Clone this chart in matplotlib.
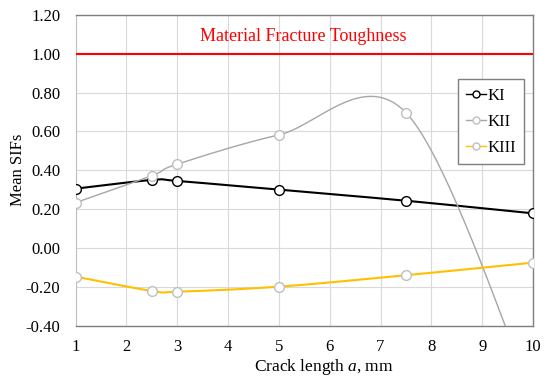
import numpy as np
import matplotlib
matplotlib.use('agg')
import matplotlib.pyplot as plt

# crack length (mm) and mean SIFs
crack_len = [1, 2.5, 3, 5, 7.5, 10]
k_one = [0.305, 0.350, 0.345, 0.300, 0.243, 0.178]
k_two = [0.233, 0.372, 0.431, 0.582, 0.697, -0.77]
k_three = [-0.148, -0.222, -0.226, -0.200, -0.141, -0.076]

x_ticks = [1, 2, 3, 4, 5, 6, 7, 8, 9, 10]
y_ticks = [-0.4, -0.2, 0.0, 0.2, 0.4, 0.6, 0.8, 1.0, 1.2]
toughness = 1.0


def smooth(xs, ys, n=40):
    # excel style smoothed line (catmull-rom as cubic bezier)
    xs = np.asarray(xs, float)
    ys = np.asarray(ys, float)
    px = np.concatenate([[xs[0]], xs, [xs[-1]]])
    py = np.concatenate([[ys[0]], ys, [ys[-1]]])
    outx, outy = [], []
    t = np.linspace(0, 1, n)
    for i in range(1, len(px) - 2):
        p1 = np.array([px[i], py[i]])
        p2 = np.array([px[i + 1], py[i + 1]])
        c1 = p1 + (p2 - np.array([px[i - 1], py[i - 1]])) / 6.0
        c2 = p2 - (np.array([px[i + 2], py[i + 2]]) - p1) / 6.0
        b = ((1 - t) ** 3)[:, None] * p1 + (3 * (1 - t) ** 2 * t)[:, None] * c1 \
            + (3 * (1 - t) * t ** 2)[:, None] * c2 + (t ** 3)[:, None] * p2
        outx.extend(b[:, 0])
        outy.extend(b[:, 1])
    return outx, outy


plt.rcParams['font.family'] = ['Liberation Serif', 'DejaVu Serif']
plt.rcParams['mathtext.fontset'] = 'custom'
plt.rcParams['mathtext.rm'] = 'Liberation Serif'
plt.rcParams['mathtext.it'] = 'Liberation Serif:italic'

fig = plt.figure(figsize=(5.5, 3.79), dpi=100)
ax = fig.add_axes([75.5 / 550, 1 - 325.5 / 379, 457.5 / 550, 310.5 / 379])

series = [
    ('KI', k_one, 'black', 'black', 1.5),
    ('KII', k_two, '#a6a6a6', '#bfbfbf', 1.0),
    ('KIII', k_three, '#ffc000', '#bfbfbf', 1.5),
]
for name, vals, col, edge, lw in series:
    sx, sy = smooth(crack_len, vals)
    ax.plot(sx, sy, color=col, linewidth=lw, zorder=3)
    ax.plot(crack_len, vals, linestyle='none', marker='o', markersize=7,
            markerfacecolor='white', markeredgecolor=edge, markeredgewidth=1.0, zorder=4)
    ax.plot([], [], color=col, linewidth=1.0, marker='o', markersize=5,
            markerfacecolor='white', markeredgecolor=edge, markeredgewidth=1.0, label=name)

ax.axhline(toughness, color='#ff0000', linewidth=1.5, zorder=3)
ax.text(5.48, 1.087, 'Material Fracture Toughness', color='#ff0000',
        fontsize=13, ha='center', va='center')

ax.set_xlim(1, 10)
ax.set_ylim(-0.4, 1.2)
ax.set_xticks(x_ticks)
ax.set_yticks(y_ticks)
ax.set_yticklabels(['%.2f' % v for v in y_ticks])
ax.tick_params(axis='both', length=0, labelsize=12)
ax.tick_params(axis='x', pad=10)
ax.tick_params(axis='y', pad=11)
ax.grid(True, color='#d9d9d9', linewidth=0.8)
ax.set_axisbelow(True)

for s in ['top', 'right', 'bottom']:
    ax.spines[s].set_color('#7f7f7f')
    ax.spines[s].set_linewidth(1.0)
ax.spines['left'].set_color('#bfbfbf')

ax.set_xlabel('Crack length $\\mathit{a}$, mm', fontsize=12.5)
ax.xaxis.set_label_coords(0.543, -0.102)
ax.set_ylabel('Mean SIFs', fontsize=12)
ax.yaxis.set_label_coords(-0.108, 0.5)

leg = ax.legend(loc='upper left', bbox_to_anchor=((457.5 - 75.5) / 457.5, 1 - (79.3 - 15) / 310.5),
                borderaxespad=0, fontsize=12, handlelength=1.2, handletextpad=0.1,
                borderpad=0.5, labelspacing=0.6, fancybox=False, framealpha=1)
leg.get_frame().set_edgecolor('#7f7f7f')
leg.get_frame().set_linewidth(1.0)

fig.savefig('out.png', dpi=100)
plt.close(fig)
